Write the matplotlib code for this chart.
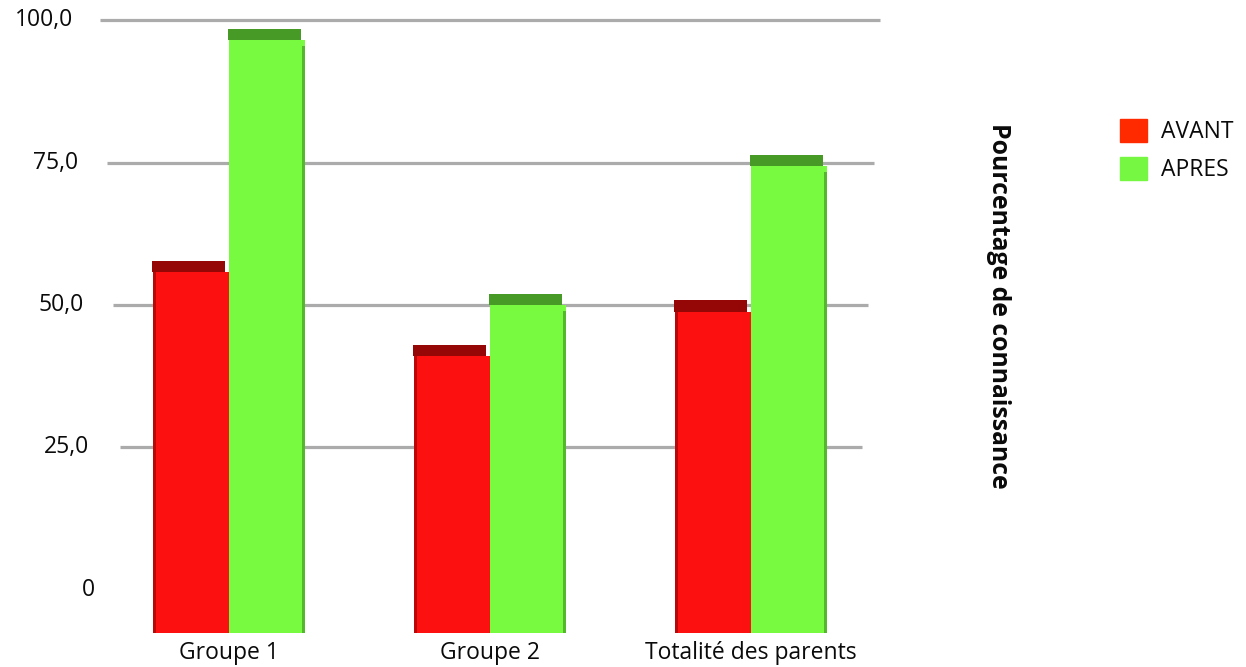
import numpy as np
import matplotlib.pyplot as plt
from matplotlib.patches import Patch
from matplotlib import transforms

plt.rcParams['font.family'] = ['Open Sans', 'DejaVu Sans']

# data
categories = ['Groupe 1', 'Groupe 2', 'Totalité des parents']
series_labels = ['AVANT', 'APRES']
avant = [55.8, 41.0, 48.8]
apres = [96.5, 50.0, 74.4]
yticks = [0, 25, 50, 75, 100]
ytick_labels = ['0', '25,0', '50,0', '75,0', '100,0']

# styling
red_front, red_top = '#fc1010', '#950707'
green_front, green_top = '#78fa40', '#489a26'
legend_colors = ['#ff2a00', '#76f842']
grid_color = '#ababab'
text_color = '#0a0a0a'
FLOOR = -7.6        # front floor sits a bit below the back wall's zero
TOP_DEPTH = 2.0     # visible thickness of the bar tops
bar_w = 0.29
fs = 16.5

W, H = 1246, 667
fig = plt.figure(figsize=(W / 100, H / 100), dpi=100)
ax = fig.add_axes([98.5 / W, 34 / H, 783 / W, 628 / H])
ax.set_xlim(-0.5, 2.5)
ax.set_ylim(FLOOR, 102.7)
ax.axis('off')


def px_x(p):
    # horizontal pixel -> data x
    return (p - 229) / 261


# gridlines on the back wall, narrowing slightly toward the floor
for v in yticks[1:]:
    x0 = px_x(120 - (v - 25) * 0.27)
    x1 = px_x(862 + (v - 25) * 0.24)
    ax.hlines(v, x0, x1, color=grid_color, lw=2.3, zorder=1)

for v, lab in zip(yticks, ytick_labels):
    ax.text(px_x(95 - v * 0.22), v, lab, ha='right', va='center',
            fontsize=fs, color=text_color)

x = np.arange(len(categories))
av = np.array(avant)
ap = np.array(apres)

# front faces
ax.bar(x - bar_w / 2, av - FLOOR, bottom=FLOOR, width=bar_w,
       color=red_front, zorder=3)
ax.bar(x + bar_w / 2, ap - FLOOR, bottom=FLOOR, width=bar_w,
       color=green_front, zorder=3)
# top faces
ax.bar(x - bar_w / 2 - 0.01, TOP_DEPTH, bottom=av, width=bar_w * 0.97,
       color=red_top, zorder=2)
ax.bar(x + bar_w / 2 - 0.01, TOP_DEPTH, bottom=ap, width=bar_w * 0.97,
       color=green_top, zorder=2)
# shaded side edges
ax.bar(x - bar_w + 0.006, av - FLOOR, bottom=FLOOR, width=0.012,
       color='#7a0000', alpha=0.5, zorder=4)
ax.bar(x + bar_w - 0.006, ap - FLOOR - 1, bottom=FLOOR, width=0.012,
       color='#2f7a18', alpha=0.5, zorder=4)

# category labels under the bars
trans = transforms.blended_transform_factory(ax.transData, fig.transFigure)
for xi, cat in zip(x, categories):
    ax.text(xi, 1 - 653 / H, cat, transform=trans, ha='center', va='center',
            fontsize=fs, color=text_color)

fig.text(998 / W, 1 - 306 / H, 'Pourcentage de connaissance', rotation=-90,
         ha='center', va='center', fontsize=17.8, fontweight='bold',
         color=text_color)

handles = [Patch(color=c, label=l) for c, l in zip(legend_colors, series_labels)]
fig.legend(handles=handles, loc='upper left',
           bbox_to_anchor=(1120 / W, 1 - 119 / H), frameon=False,
           fontsize=fs, handlelength=1.18, handleheight=1.18,
           handletextpad=0.6, labelspacing=0.55, borderpad=0,
           borderaxespad=0, labelcolor=text_color)

fig.savefig('out.png', dpi=100)
